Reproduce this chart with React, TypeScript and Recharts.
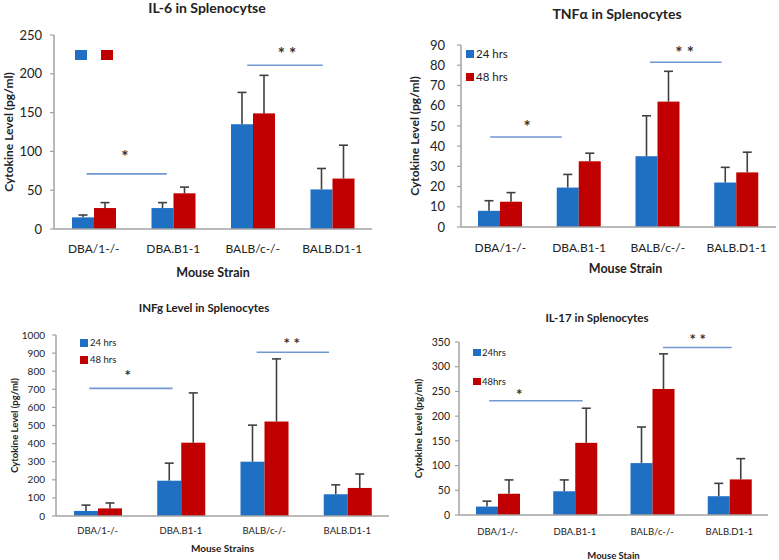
import { Bar, BarChart, Legend, ReferenceDot, ReferenceLine, XAxis, YAxis } from 'recharts'

const STRAINS = ['DBA/1-/-', 'DBA.B1-1', 'BALB/c-/-', 'BALB.D1-1']

// IL-6
const IL6_24 = [15, 27, 135, 51]
const IL6_24_ERR = [3, 7, 41, 27]
const IL6_48 = [27, 46, 149, 65]
const IL6_48_ERR = [7, 8, 49, 43]
const IL6_TICKS = [0, 50, 100, 150, 200, 250]
const IL6_SIG = [
  { from: 0.41, to: 1.42, y: 71, mark: '*', mx: 0.89, my: 98 },
  { from: 2.43, to: 3.38, y: 211, mark: '* *', mx: 2.93, my: 231 },
]

// TNFa
const TNF_24 = [8, 19.5, 35, 22]
const TNF_24_ERR = [5, 6.5, 20, 7.5]
const TNF_48 = [12.5, 32.5, 62, 27]
const TNF_48_ERR = [4.5, 4, 15, 10]
const TNF_TICKS = [0, 10, 20, 30, 40, 50, 60, 70, 80, 90]
const TNF_SIG = [
  { from: 0.37, to: 1.28, y: 44.5, mark: '*', mx: 0.84, my: 51.5 },
  { from: 2.4, to: 3.31, y: 81.5, mark: '* *', mx: 2.84, my: 88 },
]

// INFg
const INFG_24 = [28, 195, 300, 120]
const INFG_24_ERR = [32, 97, 202, 52]
const INFG_48 = [42, 405, 522, 155]
const INFG_48_ERR = [30, 275, 346, 77]
const INFG_TICKS = [0, 100, 200, 300, 400, 500, 600, 700, 800, 900, 1000]
const INFG_SIG = [
  { from: 0.4, to: 1.4, y: 705, mark: '*', mx: 0.86, my: 796 },
  { from: 2.41, to: 3.28, y: 905, mark: '* *', mx: 2.83, my: 972 },
]

// IL-17
const IL17_24 = [17, 48, 105, 38]
const IL17_24_ERR = [11, 23, 73, 26]
const IL17_48 = [43, 146, 255, 72]
const IL17_48_ERR = [28, 70, 71, 42]
const IL17_TICKS = [0, 50, 100, 150, 200, 250, 300, 350]
const IL17_SIG = [
  { from: 0.39, to: 1.6, y: 231, mark: '*', mx: 0.78, my: 252 },
  { from: 2.64, to: 3.53, y: 339, mark: '* *', mx: 3.09, my: 362 },
]

const BLUE = '#1f70c3'
const RED = '#c00000'
const AXIS = '#a3a3a3'
const SIG_LINE = '#7099d3'
const ERR = '#404040'
const FONT = 'Lato, "Open Sans", sans-serif'

function rows(a: number[], ae: number[], b: number[], be: number[]) {
  return STRAINS.map((s, i) => ({ strain: s, h24: a[i], e24: ae[i], h48: b[i], e48: be[i] }))
}

// position of a strain along a 0..N axis (band centres at i + 0.5)
const strainPos = (d: any) => STRAINS.indexOf(d.strain) + 0.5

function errorShape(valKey: string, errKey: string, cap: number) {
  return (p: any) => {
    const { x, y, width, height, fill, payload } = p
    const v = payload[valKey]
    const top = y - (payload[errKey] * height) / v
    const cx = x + width / 2
    return (
      <g>
        <rect x={x} y={y} width={width} height={height} fill={fill} />
        <line x1={cx} y1={y} x2={cx} y2={top} stroke={ERR} strokeWidth={1.6} />
        <line x1={cx - cap / 2} y1={top} x2={cx + cap / 2} y2={top} stroke={ERR} strokeWidth={1.6} />
      </g>
    )
  }
}

function legendContent(lg: any) {
  return ({ payload }: any) => (
    <div style={{ display: 'flex', flexDirection: lg.row ? 'row' : 'column', gap: lg.gap, fontFamily: FONT }}>
      {(payload || []).map((p: any) => (
        <div
          key={p.value}
          style={{ display: 'flex', alignItems: 'center', height: lg.rowH, fontSize: lg.fontSize, color: '#222' }}
        >
          <span style={{ width: lg.sqW, height: lg.sqH, background: p.color, marginRight: lg.textGap, display: 'inline-block' }} />
          {lg.text ? p.value : null}
        </div>
      ))}
    </div>
  )
}

function Panel({ g, title, xTitle, data, ticks, sig, names }: any) {
  const max = ticks[ticks.length - 1]
  return (
    <div style={{ position: 'absolute', left: g.left, top: g.top, width: g.w, height: g.h }}>
      <div
        style={{
          position: 'absolute',
          left: g.titleX - 150,
          width: 300,
          top: g.titleY - g.titleSize * 0.62,
          textAlign: 'center',
          fontSize: g.titleSize,
          fontWeight: 700,
          color: '#222',
          lineHeight: 1.2,
          whiteSpace: 'nowrap',
        }}
      >
        {title}
      </div>
      <BarChart
        width={g.w}
        height={g.h}
        data={data}
        margin={{ top: g.mt, right: g.mr, bottom: 0, left: 0 }}
        barGap={0}
        barSize={g.barSize}
        style={{ fontFamily: FONT }}
      >
        <XAxis
          dataKey="strain"
          height={g.xH}
          interval={0}
          tickLine={false}
          tickSize={6}
          tickMargin={g.xTickMargin}
          axisLine={{ stroke: AXIS, strokeWidth: 1.5 }}
          tick={{ fontSize: g.catSize, fill: '#222' }}
          label={{
            value: xTitle,
            position: 'insideBottom',
            offset: g.xTitleOffset,
            dx: g.xTitleDx,
            fontSize: g.axisTitleSize,
            fontWeight: 700,
            fill: '#222',
          }}
        />
        <XAxis xAxisId="pos" dataKey={strainPos} type="number" domain={[0, STRAINS.length]} allowDataOverflow hide />
        <YAxis
          width={g.yW}
          domain={[0, max]}
          ticks={ticks}
          interval={0}
          tickSize={4}
          tickMargin={g.yTickMargin}
          axisLine={{ stroke: AXIS, strokeWidth: 1.5 }}
          tickLine={{ stroke: AXIS, strokeWidth: 1.2 }}
          tick={{ fontSize: g.tickSize, fill: '#222' }}
          label={{
            value: 'Cytokine Level (pg/ml)',
            angle: -90,
            position: 'insideLeft',
            offset: g.yTitleX,
            fontSize: g.yTitleSize,
            fontWeight: 700,
            fill: '#222',
            style: { textAnchor: 'middle' },
          }}
        />
        <Legend
          layout="vertical"
          align="center"
          verticalAlign="middle"
          wrapperStyle={{ left: g.legend.left, top: g.legend.top, width: 'auto' }}
          content={legendContent(g.legend)}
        />
        <Bar dataKey="h24" name={names[0]} fill={BLUE} isAnimationActive={false} shape={errorShape('h24', 'e24', g.cap)} />
        <Bar dataKey="h48" name={names[1]} fill={RED} isAnimationActive={false} shape={errorShape('h48', 'e48', g.cap)} />
        {sig.map((s: any) => (
          <ReferenceLine
            key={'l' + s.mark}
            xAxisId="pos"
            segment={[
              { x: s.from, y: s.y },
              { x: s.to, y: s.y },
            ]}
            stroke={SIG_LINE}
            strokeWidth={1.6}
            ifOverflow="visible"
          />
        ))}
        {sig.map((s: any) => (
          <ReferenceDot
            key={'d' + s.mark}
            xAxisId="pos"
            x={s.mx}
            y={s.my}
            r={0}
            fill="none"
            stroke="none"
            ifOverflow="visible"
            label={{ value: s.mark, position: 'center', dy: g.markDy, fontSize: g.markSize, fontWeight: 700, fill: '#333' }}
          />
        ))}
      </BarChart>
    </div>
  )
}

const G1 = {
  left: 0, top: 0, w: 390, h: 280, mt: 35, mr: 18, yW: 54, xH: 51, barSize: 22, cap: 9,
  titleX: 207, titleY: 9, titleSize: 14, catSize: 12, tickSize: 13, axisTitleSize: 12.5, yTitleSize: 12,
  xTickMargin: 9, yTickMargin: 8, xTitleOffset: 3, xTitleDx: 0, yTitleX: 9, markSize: 17, markDy: 4,
  legend: { left: 75, top: 50, row: true, gap: 14, rowH: 10, sqW: 12, sqH: 10, textGap: 0, fontSize: 11, text: false },
}
const G2 = {
  left: 390, top: 0, w: 389, h: 280, mt: 45, mr: 3, yW: 71, xH: 53, barSize: 22, cap: 9,
  titleX: 227, titleY: 15, titleSize: 14, catSize: 12, tickSize: 13, axisTitleSize: 12.5, yTitleSize: 12,
  xTickMargin: 10, yTickMargin: 12, xTitleOffset: 7, xTitleDx: 7, yTitleX: 25, markSize: 17, markDy: 4,
  legend: { left: 76, top: 42, row: false, gap: 0, rowH: 23, sqW: 8, sqH: 8, textGap: 2, fontSize: 11.5, text: true },
}
const G3 = {
  left: 0, top: 280, w: 390, h: 280, mt: 55, mr: 1, yW: 56, xH: 44, barSize: 24, cap: 9,
  titleX: 204, titleY: 28, titleSize: 11.5, catSize: 9.5, tickSize: 10, axisTitleSize: 10, yTitleSize: 9.5,
  xTickMargin: 5, yTickMargin: 7, xTitleOffset: 8, xTitleDx: 0, yTitleX: 15, markSize: 15, markDy: 4,
  legend: { left: 80, top: 54, row: false, gap: 0, rowH: 17, sqW: 8, sqH: 8, textGap: 2, fontSize: 9.5, text: true },
}
const G4 = {
  left: 390, top: 280, w: 389, h: 280, mt: 62, mr: 11, yW: 69, xH: 45, barSize: 22, cap: 9,
  titleX: 207, titleY: 38, titleSize: 11.5, catSize: 9.5, tickSize: 10.5, axisTitleSize: 9.5, yTitleSize: 10,
  xTickMargin: 7, yTickMargin: 5, xTitleOffset: 1.5, xTitleDx: 0, yTitleX: 28, markSize: 15, markDy: 4,
  legend: { left: 83, top: 58, row: false, gap: 0, rowH: 29, sqW: 8, sqH: 7, textGap: 1, fontSize: 9.5, text: true },
}

export default function App() {
  return (
    <div
      style={{
        position: 'absolute',
        left: 0,
        top: 0,
        width: 779,
        height: 560,
        background: '#fff',
        overflow: 'hidden',
        fontFamily: FONT,
      }}
    >
      <Panel
        g={G1}
        title="IL-6 in Splenocytse"
        xTitle="Mouse Strain"
        data={rows(IL6_24, IL6_24_ERR, IL6_48, IL6_48_ERR)}
        ticks={IL6_TICKS}
        sig={IL6_SIG}
        names={['24 hrs', '48 hrs']}
      />
      <Panel
        g={G2}
        title="TNFα in Splenocytes"
        xTitle="Mouse Strain"
        data={rows(TNF_24, TNF_24_ERR, TNF_48, TNF_48_ERR)}
        ticks={TNF_TICKS}
        sig={TNF_SIG}
        names={['24 hrs', '48 hrs']}
      />
      <Panel
        g={G3}
        title="INFg Level in Splenocytes"
        xTitle="Mouse Strains"
        data={rows(INFG_24, INFG_24_ERR, INFG_48, INFG_48_ERR)}
        ticks={INFG_TICKS}
        sig={INFG_SIG}
        names={['24 hrs', '48 hrs']}
      />
      <Panel
        g={G4}
        title="IL-17 in Splenocytes"
        xTitle="Mouse Stain"
        data={rows(IL17_24, IL17_24_ERR, IL17_48, IL17_48_ERR)}
        ticks={IL17_TICKS}
        sig={IL17_SIG}
        names={['24hrs', '48hrs']}
      />
    </div>
  )
}
